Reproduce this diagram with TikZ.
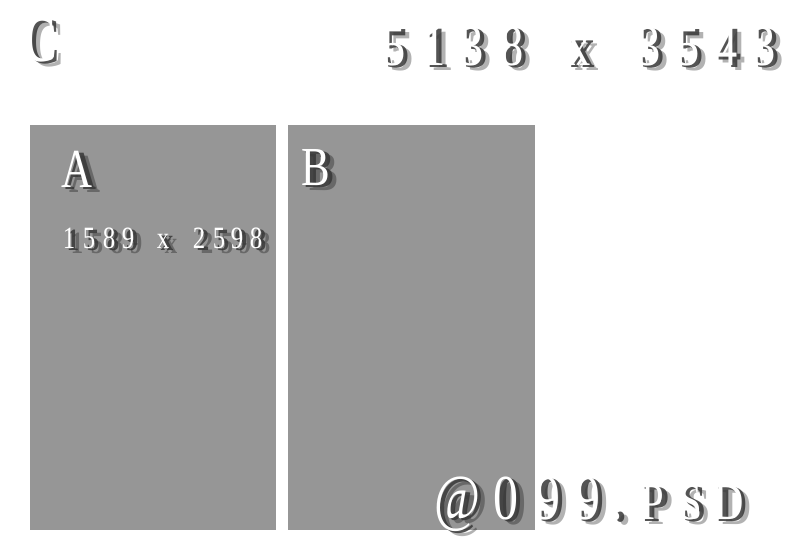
\documentclass[tikz,border=0pt]{standalone}
\usepackage{fontspec}
\setmainfont{Liberation Serif}
\definecolor{panelgray}{RGB}{150,150,150}
\definecolor{shadowgray}{RGB}{55,55,55}
\tikzset{
  panel/.style={fill=panelgray, draw=none},
  shdA/.style={text=black, opacity=.3, inner sep=0pt, anchor=base},
  shdC/.style={text=shadowgray, opacity=.85, inner sep=0pt, anchor=base},
  face/.style={text=white, inner sep=0pt, anchor=base},
  bigfont/.style={font=\fontsize{58}{60}\selectfont},
  cfont/.style={font=\fontsize{66}{68}\selectfont\bfseries},
  midfont/.style={font=\fontsize{55}{58}\selectfont},
  smallfont/.style={font=\fontsize{31}{33}\selectfont},
  psdfont/.style={font=\fontsize{64}{66}\selectfont},
  capfont/.style={font=\fontsize{52}{54}\selectfont},
}
% #1 name, #2 x, #3 y (baseline), #4 font style, #5 x-scale, #6 text
\newcommand\embglyph[6]{%
  \node[#4, shdA] at (#2+8,#3+5) {\scalebox{#5}[1]{\bfseries #6}};
  \node[#4, shdC] at (#2+4,#3+2) {\scalebox{#5}[1]{\bfseries #6}};
  \node[#4, face] (#1) at (#2,#3) {\scalebox{#5}[1]{#6}};
}
\begin{document}
\begin{tikzpicture}[x=1pt,y=-1pt]
\useasboundingbox[fill=white] (0,0) rectangle (800,552);
% panels
\path[panel] (30,125) rectangle (276,530);
\path[panel] (288,125) rectangle (535,530);
% C
\embglyph{c}{40}{61}{cfont}{0.72}{C}
% 5138 x 3543
\foreach \cx/\ch [count=\i] in {394/5,434/1,472/3,512/8,579/x,649/3,688/5,726/4,764/3}{
  \embglyph{top\i}{\cx}{65}{bigfont}{0.8}{\ch}
}
% A
\embglyph{a}{77}{187}{midfont}{0.78}{A}
% 1589 x 2598
\foreach \cx/\ch [count=\i] in {69/1,89/5,109/8,128/9,163/x,199/2,219/5,237/9,256/8}{
  \embglyph{dim\i}{\cx}{248}{smallfont}{0.8}{\ch}
}
% B
\embglyph{b}{316}{185}{midfont}{0.78}{B}
% @099.PSD
\foreach \cx/\ch/\fs [count=\i] in {457/@/psdfont,506/0/psdfont,548/9/psdfont,588/9/psdfont,617/./psdfont,653/P/capfont,691/S/capfont,729/D/capfont}{
  \embglyph{psd\i}{\cx}{519}{\fs}{0.78}{\ch}
}
\end{tikzpicture}
\end{document}
